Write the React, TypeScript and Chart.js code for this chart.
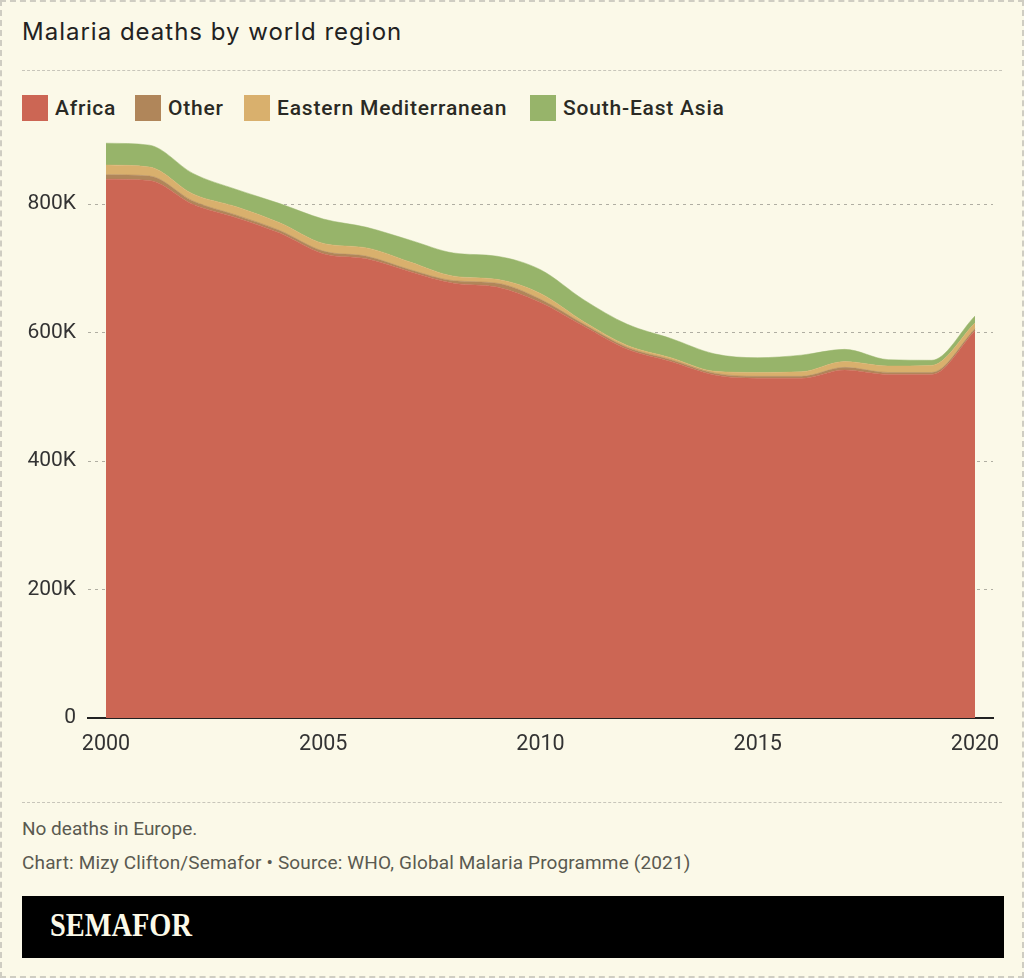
import React, { useEffect, useRef } from "react";
import { Chart, registerables } from "chart.js";

Chart.register(...registerables);

const years = [2000, 2001, 2002, 2003, 2004, 2005, 2006, 2007, 2008, 2009, 2010, 2011, 2012, 2013, 2014, 2015, 2016, 2017, 2018, 2019, 2020];
const africa = [839000, 837000, 800000, 779000, 755000, 723000, 715000, 695000, 677000, 671000, 647000, 610000, 574000, 555000, 534000, 529000, 529000, 542000, 535000, 535000, 603000];
const other = [7000, 7000, 5000, 4000, 4000, 4000, 4000, 3000, 4000, 6000, 5000, 3000, 3000, 3000, 3000, 3000, 3000, 4000, 3000, 3000, 3000];
const easternMed = [15000, 14000, 11000, 13000, 12000, 12000, 13000, 12000, 7000, 6000, 9000, 4000, 3000, 3000, 3000, 6000, 7000, 9000, 10000, 11000, 9000];
const southEastAsia = [34000, 34000, 32000, 27000, 30000, 38000, 32000, 34000, 36000, 36000, 37000, 34000, 33000, 30000, 27000, 23000, 26000, 19000, 10000, 8000, 11000];
const yTicks = [0, 200000, 400000, 600000, 800000];
const xTicks = [2000, 2005, 2010, 2015, 2020];

const seriesNames = ["Africa", "Other", "Eastern Mediterranean", "South-East Asia"];
const seriesColors = ["#cc6654", "#b0865a", "#d9b06d", "#97b46a"];

const BG = "#fbf9e8";
const SANS = "Roboto, 'Liberation Sans', sans-serif";

export default function App() {
  const ref = useRef<HTMLCanvasElement | null>(null);

  useEffect(() => {
    if (!ref.current) return;
    const series = [africa, other, easternMed, southEastAsia];
    const chart = new Chart(ref.current, {
      type: "line",
      data: {
        datasets: series.map((vals, i) => ({
          label: seriesNames[i],
          data: vals.map((v, j) => ({ x: years[j], y: v })),
          backgroundColor: seriesColors[i],
          borderColor: seriesColors[i],
          borderWidth: 0.5,
          pointRadius: 0,
          fill: i === 0 ? "origin" : "-1",
          cubicInterpolationMode: "monotone" as const,
        })),
      },
      options: {
        animation: false,
        responsive: false,
        maintainAspectRatio: false,
        layout: { padding: { left: 0, right: 31, top: 15, bottom: 0 } },
        plugins: {
          legend: { display: false },
          tooltip: { enabled: false },
        },
        scales: {
          x: {
            type: "linear",
            min: 1999.586,
            max: 2020.414,
            afterBuildTicks: (s: any) => {
              s.ticks = xTicks.map((v) => ({ value: v }));
            },
            afterFit: (s: any) => {
              s.height = 57;
              s.paddingLeft = 0;
              s.paddingRight = 0;
            },
            grid: { display: false, drawTicks: false },
            border: { display: true, color: "#222", width: 2 },
            ticks: {
              padding: 14,
              color: "#333",
              font: { family: SANS, size: 21.5 },
              maxRotation: 0,
              callback: (v: any) => String(v),
            },
          },
          y: {
            type: "linear",
            stacked: true,
            min: 0,
            max: 900000,
            afterBuildTicks: (s: any) => {
              s.ticks = yTicks.map((v) => ({ value: v }));
            },
            afterFit: (s: any) => {
              s.width = 88;
              s.paddingTop = 0;
              s.paddingBottom = 0;
            },
            grid: {
              color: (c: any) => (c.tick && c.tick.value === 0 ? "rgba(0,0,0,0)" : "#b0aea2"),
              lineWidth: 1,
              drawTicks: false,
            },
            border: { display: false, dash: [3, 4] },
            ticks: {
              padding: 12,
              color: "#333",
              font: { family: SANS, size: 21 },
              callback: (v: any) => (v === 0 ? "0" : `${Math.round(v / 1000)}K`),
            },
          },
        },
      } as any,
    });
    return () => chart.destroy();
  }, []);

  const legendItem = (name: string, color: string, left: number) => (
    <div key={name} style={{ position: "absolute", left, top: 93, display: "flex", alignItems: "center", height: 26 }}>
      <div style={{ width: 26, height: 26, background: color, marginRight: 7 }} />
      <span style={{ fontFamily: SANS, fontSize: 21, fontWeight: 500, color: "#2a2a24", letterSpacing: 0.8 }}>{name}</span>
    </div>
  );

  const legendLefts = [22, 135, 244, 530];

  return (
    <div
      style={{
        position: "absolute",
        left: 0,
        top: 0,
        width: 1024,
        height: 978,
        boxSizing: "border-box",
        border: "2px dashed #cfcdc2",
        background: BG,
        overflow: "hidden",
      }}
    >
      <div
        style={{
          position: "absolute",
          left: 20,
          top: 15,
          fontFamily: "Inter, 'Liberation Sans', Arial, sans-serif",
          fontSize: 24,
          color: "#222",
          letterSpacing: 1.0,
        }}
      >
        Malaria deaths by world region
      </div>
      <div style={{ position: "absolute", left: 20, top: 68, width: 980, borderTop: "1.5px dashed #c8c6ba" }} />
      {seriesNames.map((n, i) => legendItem(n, seriesColors[i], legendLefts[i] - 2))}
      <canvas
        ref={ref}
        width={1024}
        height={650}
        style={{ position: "absolute", left: -2, top: 123, width: 1024, height: 650 }}
      />
      <div style={{ position: "absolute", left: 20, top: 800, width: 980, borderTop: "1.5px dashed #c8c6ba" }} />
      <div style={{ position: "absolute", left: 20, top: 815, fontFamily: SANS, fontSize: 19, color: "#5a5a50" }}>
        No deaths in Europe.
      </div>
      <div style={{ position: "absolute", left: 20, top: 849, fontFamily: SANS, fontSize: 19, color: "#5a5a50", letterSpacing: 0.15 }}>
        Chart: Mizy Clifton/Semafor • Source: WHO, Global Malaria Programme (2021)
      </div>
      <div
        style={{
          position: "absolute",
          left: 20,
          top: 894,
          width: 982,
          height: 62,
          background: "#000",
        }}
      >
        <div
          style={{
            position: "absolute",
            left: 28,
            top: 11,
            fontFamily: "'Liberation Serif', 'Times New Roman', serif",
            fontWeight: 700,
            fontSize: 33,
            color: BG,
            transform: "scaleX(0.86)",
            transformOrigin: "left center",
          }}
        >
          SEMAFOR
        </div>
      </div>
    </div>
  );
}
